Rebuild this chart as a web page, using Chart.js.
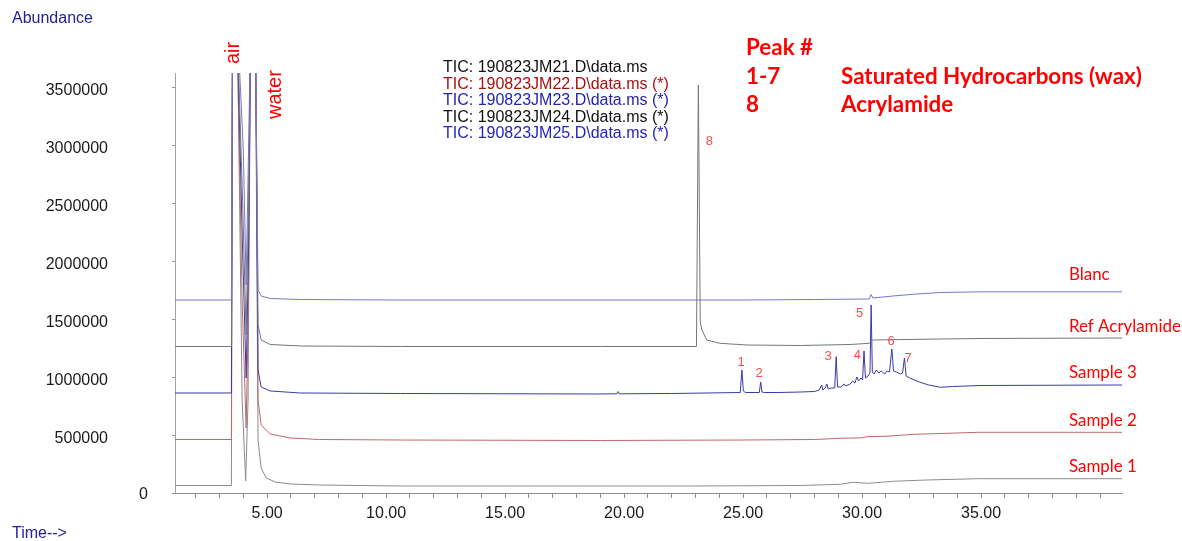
<!DOCTYPE html>
<html>
<head>
<meta charset="utf-8">
<title>TIC overlay</title>
<script src="https://cdn.jsdelivr.net/npm/chart.js@4.4.1/dist/chart.umd.min.js"></script>
<style>
  body { margin: 0; background: #fff; }
  canvas { display: block; }
</style>
</head>
<body>
<canvas id="myChart" width="1182" height="541"></canvas>
<script>
'use strict';

// [time (min), abundance] (offset traces as printed)
let blanc = [
  [1.13, 1666700], [3.50, 1666700], [3.55, 4200000], [3.72, 4200000], [4.00, 2962100],
  [4.12, 1796300], [4.22, 2962100], [4.32, 4200000], [4.50, 4200000], [4.62, 1753100],
  [4.75, 1701300], [5.13, 1679700], [6.40, 1671000], [10.60, 1666700], [19.00, 1666700],
  [25.00, 1666700], [28.00, 1671000], [30.30, 1675400], [30.38, 1714200], [30.45, 1684000],
  [31.30, 1701300], [32.30, 1718600], [33.30, 1731500], [35.00, 1737600], [40.92, 1737600]
];

let refAcrylamide = [
  [1.13, 1265200], [3.50, 1265200], [3.55, 4200000], [3.72, 4200000], [3.97, 2530300],
  [4.12, 1364500], [4.22, 2530300], [4.32, 4200000], [4.50, 4200000], [4.62, 1450800],
  [4.75, 1321300], [5.13, 1282500], [6.40, 1269500], [10.60, 1265200], [19.00, 1265200],
  [23.04, 1265200], [23.12, 3523500], [23.20, 1476800], [23.27, 1407700], [23.47, 1321300],
  [24.03, 1292800], [25.16, 1278100], [27.40, 1273800], [29.50, 1282500], [30.30, 1292800],
  [30.38, 1312700], [30.45, 1321300], [31.00, 1323000], [33.30, 1330000], [35.00, 1334300],
  [40.92, 1338600]
];

let sample3 = [
  [1.13, 863600], [3.50, 863600], [3.55, 4200000], [3.72, 4200000], [3.97, 2098500],
  [4.12, 993100], [4.22, 2098500], [4.32, 4200000], [4.50, 4200000], [4.62, 1062300],
  [4.75, 915400], [5.13, 880900], [6.40, 863600], [10.60, 859300], [18.90, 855000],
  [19.70, 856700], [19.75, 876600], [19.80, 856700], [22.00, 859300], [24.88, 867900],
  [24.95, 1062300], [25.01, 880900], [25.10, 867900], [25.68, 867900], [25.74, 958600],
  [25.79, 872200], [25.90, 867900], [26.50, 867900], [27.40, 872200], [28.00, 876600],
  [28.20, 889500], [28.30, 932700], [28.35, 889500], [28.45, 906800], [28.52, 941300],
  [28.58, 898100], [28.70, 906800], [28.85, 906800], [28.91, 1177100], [28.97, 915400],
  [29.10, 915400], [29.25, 941300], [29.30, 924100], [29.50, 941300], [29.60, 967200],
  [29.70, 950000], [29.78, 1001800], [29.85, 967200], [29.95, 993100], [30.02, 975900],
  [30.08, 1226300], [30.14, 993100], [30.25, 1010400], [30.33, 1036300], [30.38, 1623600],
  [30.43, 1045000], [30.50, 1027700], [30.60, 1062300], [30.70, 1036300], [30.80, 1053600],
  [30.95, 1027700], [31.05, 1053600], [31.15, 1045000], [31.25, 1243600], [31.32, 1053600],
  [31.45, 1045000], [31.60, 1027700], [31.70, 1036300], [31.78, 1165900], [31.85, 1010400],
  [32.00, 993100], [32.40, 958600], [32.80, 932700], [33.30, 912800], [33.80, 919700],
  [35.00, 928400], [40.92, 932700]
];

let sample2 = [
  [1.13, 462000], [3.50, 462000], [3.55, 4200000], [3.72, 4200000], [3.95, 1666700],
  [4.12, 561300], [4.22, 1666700], [4.32, 4200000], [4.52, 4200000], [4.62, 803100],
  [4.75, 587200], [5.13, 509500], [5.97, 475000], [7.20, 462000], [10.60, 457700],
  [19.00, 453400], [25.00, 457700], [28.00, 462000], [29.10, 472400], [30.00, 477000],
  [30.20, 486200], [31.00, 490000], [32.20, 506900], [34.90, 524200], [40.92, 524200]
];

let sample1 = [
  [1.13, 64800], [3.50, 64800], [3.55, 4200000], [3.74, 4200000], [3.95, 803100],
  [4.10, 103600], [4.20, 803100], [4.30, 4200000], [4.50, 4200000], [4.62, 457700],
  [4.75, 215900], [4.96, 129500], [5.34, 95000], [6.00, 77700], [7.20, 69100],
  [10.60, 60500], [19.00, 60500], [23.00, 60500], [27.40, 64800], [29.10, 75100],
  [29.60, 92400], [30.26, 83800], [31.30, 101000], [32.70, 112300], [34.90, 123500],
  [40.92, 123500]
];

let traceNames = ['Blanc', 'Ref Acrylamide', 'Sample 3', 'Sample 2', 'Sample 1'];
let traceColors = ['#7676c8', '#767676', '#3a3aa8', '#c06868', '#8c8c8c'];
let traceData = [blanc, refAcrylamide, sample3, sample2, sample1];

let ticFiles = [
  'TIC: 190823JM21.D\\data.ms',
  'TIC: 190823JM22.D\\data.ms (*)',
  'TIC: 190823JM23.D\\data.ms (*)',
  'TIC: 190823JM24.D\\data.ms (*)',
  'TIC: 190823JM25.D\\data.ms (*)'
];
let ticColors = ['#111111', '#a81010', '#2424b0', '#111111', '#2424c0'];

// peak numbers: [label, time, abundance at label]
let peakLabels = [
  ['1', 24.92, 1127000], ['2', 25.67, 1035000], ['3', 28.57, 1183000], ['4', 29.80, 1192000],
  ['5', 29.90, 1550000], ['6', 31.22, 1310000], ['7', 31.93, 1160000], ['8', 23.58, 3034000]
];

let xTickValues = [2, 3, 4, 5, 6, 7, 8, 9, 10, 11, 12, 13, 14, 15, 16, 17, 18, 19, 20, 21,
  22, 23, 24, 25, 26, 27, 28, 29, 30, 31, 32, 33, 34, 35, 36, 37, 38, 39, 40];
let xLabelValues = [5, 10, 15, 20, 25, 30, 35];
let yTickValues = [0, 500000, 1000000, 1500000, 2000000, 2500000, 3000000, 3500000];

let xMin = 1.13;
let xMax = 40.92;
let yMax = 3627100;

const fontSans = "'Liberation Sans', Arial, sans-serif";

function toPoints(arr) {
  return arr.map(p => ({ x: p[0], y: p[1] }));
}

function fitSize(ctx, text, family, weight, width) {
  ctx.font = weight + ' 20px ' + family;
  return 20 * width / ctx.measureText(text).width;
}

let datasets = [];
for (let i = 0; i < traceData.length; i++) {
  datasets.push({
    label: traceNames[i],
    data: toPoints(traceData[i]),
    borderColor: traceColors[i],
    borderWidth: 1,
    pointRadius: 0,
    tension: 0,
    fill: false
  });
}

const textPlugin = {
  id: 'textPlugin',
  afterDraw(chart) {
    const ctx = chart.ctx;
    const xs = chart.scales.x;
    const ys = chart.scales.y;
    ctx.save();
    ctx.textBaseline = 'middle';

    // axis captions
    ctx.font = '16px ' + fontSans;
    ctx.fillStyle = '#22229a';
    ctx.textAlign = 'left';
    ctx.fillText('Abundance', 12, 19);
    ctx.fillText('Time-->', 12, 534);

    // the zero label sits close to the axis
    ctx.fillStyle = '#1a1a1a';
    ctx.textAlign = 'right';
    ctx.fillText('0', 148, ys.getPixelForValue(0) + 2);

    // file list
    ctx.textAlign = 'left';
    for (let i = 0; i < ticFiles.length; i++) {
      ctx.fillStyle = ticColors[i];
      ctx.fillText(ticFiles[i], 443, 68 + i * 16.5);
    }

    // peak legend
    ctx.fillStyle = '#ff0000';
    let bigSize = fitSize(ctx, 'Saturated Hydrocarbons (wax)', 'Lato', 'bold', 301);
    ctx.font = 'bold ' + bigSize.toFixed(1) + 'px Lato';
    ctx.fillText('Peak #', 746, 48);
    ctx.fillText('1-7', 746, 77);
    ctx.fillText('Saturated Hydrocarbons (wax)', 841, 77);
    ctx.fillText('8', 746, 105);
    ctx.fillText('Acrylamide', 841, 105);

    // trace names on the right
    let nameSize = fitSize(ctx, 'Ref Acrylamide', 'Lato', 'normal', 112);
    ctx.font = nameSize.toFixed(1) + 'px Lato';
    let nameY = [275, 327, 373, 421, 467];
    for (let i = 0; i < traceNames.length; i++) {
      ctx.fillText(traceNames[i], 1069, nameY[i]);
    }

    // air / water
    ctx.font = '20px ' + fontSans;
    ctx.textBaseline = 'alphabetic';
    ctx.save();
    ctx.translate(239, 64);
    ctx.rotate(-Math.PI / 2);
    ctx.fillText('air', 0, 0);
    ctx.restore();
    ctx.save();
    ctx.translate(281, 119);
    ctx.rotate(-Math.PI / 2);
    ctx.fillText('water', 0, 0);
    ctx.restore();

    // peak numbers
    ctx.font = '13px ' + fontSans;
    ctx.fillStyle = '#ff4a4a';
    ctx.textAlign = 'center';
    ctx.textBaseline = 'middle';
    for (let i = 0; i < peakLabels.length; i++) {
      let p = peakLabels[i];
      ctx.fillText(p[0], xs.getPixelForValue(p[1]), ys.getPixelForValue(p[2]));
    }
    ctx.restore();
  }
};

let ctx = document.getElementById('myChart').getContext('2d');

let myChartObj = {
  type: 'line',
  data: { datasets: datasets },
  options: {
    responsive: false,
    animation: false,
    devicePixelRatio: 1,
    layout: { padding: { top: 73, right: 60, bottom: 0, left: 0 } },
    scales: {
      x: {
        type: 'linear',
        min: xMin,
        max: xMax,
        afterBuildTicks: function (scale) {
          scale.ticks = xTickValues.map(v => ({ value: v }));
        },
        afterFit: function (scale) {
          scale.height = 48;
          scale.paddingLeft = 0;
          scale.paddingRight = 0;
        },
        border: { display: true, color: '#8c8c8c', width: 1 },
        grid: { display: true, drawOnChartArea: false, drawTicks: true, tickLength: 5, color: '#8c8c8c' },
        ticks: {
          autoSkip: false,
          maxRotation: 0,
          padding: 6,
          color: '#1a1a1a',
          font: { family: fontSans, size: 16 },
          callback: function (v) { return xLabelValues.includes(v) ? v.toFixed(2) : ''; }
        }
      },
      y: {
        min: 0,
        max: yMax,
        afterBuildTicks: function (scale) {
          scale.ticks = yTickValues.map(v => ({ value: v }));
        },
        afterFit: function (scale) {
          scale.width = 175;
          scale.paddingTop = 0;
          scale.paddingBottom = 0;
        },
        border: { display: true, color: '#a0a0a0', width: 1, dash: [1, 2] },
        grid: { display: true, drawOnChartArea: false, drawTicks: true, tickLength: 3, color: '#999999' },
        ticks: {
          autoSkip: false,
          padding: 64,
          labelOffset: 3,
          color: '#1a1a1a',
          font: { family: fontSans, size: 16 },
          callback: function (v) { return v === 0 ? '' : String(v); }
        }
      }
    },
    plugins: {
      legend: { display: false },
      tooltip: { enabled: false }
    }
  },
  plugins: [textPlugin]
};

const myChart = new Chart(ctx, myChartObj);
</script>
</body>
</html>
